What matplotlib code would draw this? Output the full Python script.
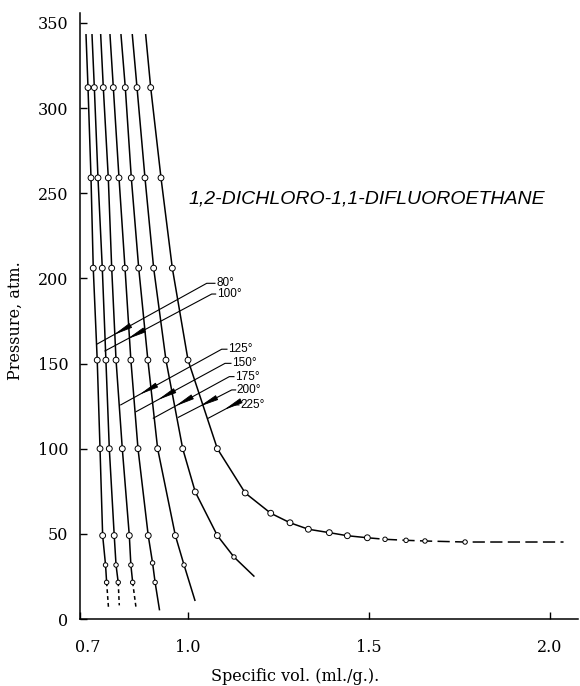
import matplotlib; matplotlib.use("Agg")
import matplotlib.pyplot as plt
import matplotlib.transforms as mtrans
import numpy as np

# isotherms (deg C)
TEMPS = [80, 100, 125, 150, 175, 200, 225]

# line ends (no circle): top of every curve, bottom end of each
TOP_P = 343
TOP_V = [0.718, 0.7346, 0.7586, 0.7843, 0.8147, 0.846, 0.883]
END_P = [7, 8, 7, 5.5, 11, 25.2, 45.2]
END_V = [0.780, 0.810, 0.856, 0.921, 1.019, 1.182, 2.038]
# below this pressure the curve is drawn dashed
SOLID_TO = [21.5, 21.5, 21.5, 0, 0, 0, 47.7]

# measured points, specific vol (ml/g) and pressure (atm)
V80 = [0.7235, 0.7318, 0.738, 0.749, 0.7567, 0.764, 0.772, 0.775]
P80 = [312, 259, 206, 152, 100, 49, 31.7, 21.5]
V100 = [0.741, 0.7511, 0.763, 0.773, 0.7824, 0.796, 0.801, 0.807]
P100 = [312, 259, 206, 152, 100, 49, 31.7, 21.5]
V125 = [0.7658, 0.7796, 0.789, 0.801, 0.8183, 0.8377, 0.842, 0.847]
P125 = [312, 259, 206, 152, 100, 49, 31.7, 21.5]
V150 = [0.7935, 0.8092, 0.8258, 0.842, 0.8617, 0.890, 0.902, 0.909]
P150 = [312, 259, 206, 152, 100, 49, 32.9, 21.5]
V175 = [0.8266, 0.8432, 0.8637, 0.889, 0.916, 0.965, 0.989]
P175 = [312, 259, 206, 152, 100, 49, 31.7]
V200 = [0.859, 0.881, 0.905, 0.939, 0.9853, 1.02, 1.081, 1.127]
P200 = [312, 259, 206, 152, 100, 74.6, 49, 36.4]
V225 = [0.8968, 0.9253, 0.9566, 1.0, 1.081, 1.158, 1.2286, 1.282, 1.3326,
        1.3906, 1.4404, 1.4957, 1.5446, 1.6027, 1.655, 1.7658]
P225 = [312, 259, 206, 152, 100, 74, 62.1, 56.5, 52.7,
        50.7, 48.9, 47.7, 46.8, 46.2, 45.8, 45.2]
CIRC_V = [V80, V100, V125, V150, V175, V200, V225]
CIRC_P = [P80, P100, P125, P150, P175, P200, P225]

# temperature labels: leader from curve (0) to label (1), wedge position along it
LEAD_V0 = [0.7492, 0.7705, 0.8139, 0.8562, 0.904, 0.9732, 1.0561]
LEAD_P0 = [161.5, 157.4, 125.7, 121.7, 117.9, 118.4, 117.9]
LEAD_V1 = [1.0517, 1.0655, 1.0931, 1.1023, 1.1142, 1.1208, 1.1252]
LEAD_P1 = [197.1, 190.8, 158.4, 150.1, 142.3, 134.5, 125.7]
LABEL_V = [1.0774, 1.0793, 1.1106, 1.1216, 1.13, 1.1346, 1.1437]
WEDGE_F = [0.17, 0.23, 0.21, 0.27, 0.32, 0.44, 0.72]

TITLE = "1,2-DICHLORO-1,1-DIFLUOROETHANE"

plt.rcParams["font.family"] = "DejaVu Serif"
W, H = 580, 686
fig = plt.figure(figsize=(W/100, H/100), dpi=100)
ax = fig.add_axes([79.5/W, (H-619)/H, (578-79.5)/W, (619-13)/H])
ax.set_xlim(0.7, 2.078)
ax.set_ylim(0, 355.8)

for i, t in enumerate(TEMPS):
    v = np.array([TOP_V[i]] + CIRC_V[i] + [END_V[i]])
    p = np.array([TOP_P] + CIRC_P[i] + [END_P[i]])
    n = int((p >= SOLID_TO[i]).sum())
    ax.plot(v[:n], p[:n], color="k", lw=1.1, zorder=2)
    if n < len(v):
        dash = (0, (8, 3.5)) if t == 225 else (0, (2.5, 2))
        ax.plot(v[n-1:], p[n-1:], color="k", lw=1.1, ls=dash, zorder=2)
    ms = [4.2 if pp > 47.5 else 3.2 for pp in CIRC_P[i]]
    ax.scatter(CIRC_V[i], CIRC_P[i], s=np.array(ms)**2, facecolor="white",
               edgecolor="k", linewidths=0.7, zorder=3)

# leaders, wedges and labels
for i, t in enumerate(TEMPS):
    ax.plot([LEAD_V0[i], LEAD_V1[i], LABEL_V[i] - 0.003],
            [LEAD_P0[i], LEAD_P1[i], LEAD_P1[i]], color="k", lw=0.8, zorder=2)
    a = ax.transData.transform((LEAD_V0[i], LEAD_P0[i]))
    b = ax.transData.transform((LEAD_V1[i], LEAD_P1[i]))
    u = (b - a) / np.hypot(*(b - a))
    f = WEDGE_F[i]
    tip = (LEAD_V0[i] + f*(LEAD_V1[i]-LEAD_V0[i]), LEAD_P0[i] + f*(LEAD_P1[i]-LEAD_P0[i]))
    ax.annotate("", xy=tip, xytext=(u[0]*12, u[1]*12), textcoords="offset points",
                arrowprops=dict(arrowstyle="wedge,tail_width=0.32", fc="k", ec="k",
                                lw=0.6, shrinkA=0, shrinkB=0), zorder=4)
    ax.text(LABEL_V[i], LEAD_P1[i], "{}°".format(t), family="Liberation Sans",
            fontsize=8.5, ha="left", va="center")

ax.text(1.0, 246.5, TITLE, family="Liberation Sans", style="italic",
        fontsize=14, ha="left", va="center")

for s in ["top", "right"]:
    ax.spines[s].set_visible(False)
for s in ["left", "bottom"]:
    ax.spines[s].set_linewidth(1.1)

ax.set_yticks(np.arange(0, 351, 50))
ax.set_xticks([0.7, 1.0, 1.5, 2.0])
ax.set_xticklabels(["0.7", "1.0", "1.5", "2.0"])
ax.tick_params(direction="in", length=5, width=1, labelsize=11.5)
ax.tick_params(axis="x", pad=14.5)
ax.tick_params(axis="y", pad=8)
# 0.7 sits a little right of the corner
lab = ax.get_xticklabels()[0]
lab.set_transform(lab.get_transform() + mtrans.ScaledTranslation(6/72, 0, fig.dpi_scale_trans))

ax.set_xlabel("Specific vol. (ml./g.).", fontsize=11.5)
ax.xaxis.set_label_coords(0.433, -0.081)
ax.set_ylabel("Pressure, atm.", fontsize=11.5)
ax.yaxis.set_label_coords(-0.112, 0.4926)

fig.savefig("out.png", dpi=100)
